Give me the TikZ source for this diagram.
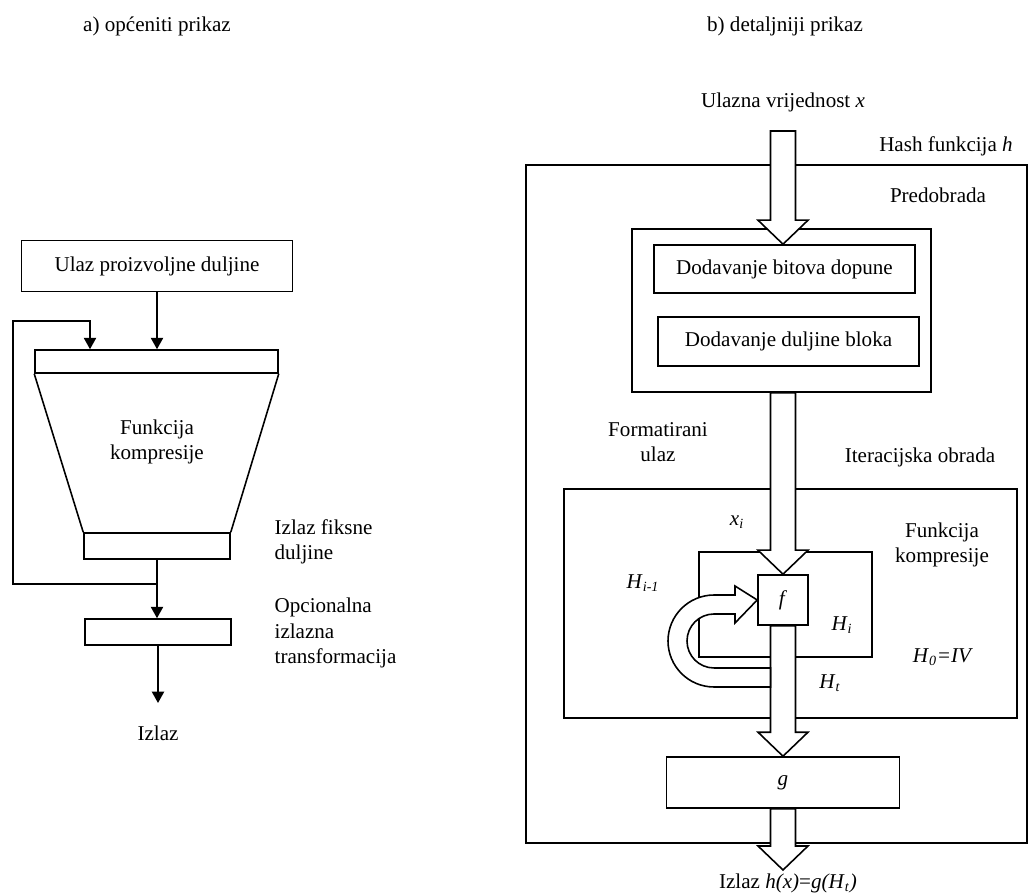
\documentclass[tikz,border=0pt]{standalone}
\usepackage{fontspec}
\setmainfont{Liberation Serif}
\usetikzlibrary{calc,arrows.meta,positioning}

\newcommand{\hsub}[2]{\textit{#1}\textsubscript{\textit{#2}}}
\newcommand{\blockarrow}[2]{%
  \draw[fill=white] let \p1=(#1), \p2=(#2) in
    (\x1-0.25cm,\y1) -- (\x1-0.25cm,\y2+0.48cm) -- (\x1-0.5cm,\y2+0.48cm)
    -- (\x1,\y2) -- (\x1+0.5cm,\y2+0.48cm) -- (\x1+0.25cm,\y2+0.48cm)
    -- (\x1+0.25cm,\y1) -- cycle;}

\begin{document}
\begin{tikzpicture}[x=0.02cm, y=0.02cm, line width=0.9pt,
  every node/.style={font=\fontsize{12}{14.5}\selectfont},
  blok/.style={draw, inner sep=0pt},
  tekst/.style={align=center},
  bok/.style={align=left, anchor=west},
  >={Triangle[length=6.5pt,width=7pt]}]
  \useasboundingbox (0,0) rectangle (1035,895);

  % a) opceniti prikaz
  \node (naslovA) at (157,869) {a) općeniti prikaz};
  \node[blok, minimum width=5.42cm, minimum height=1.02cm] (ulaz) at (157,629) {Ulaz proizvoljne duljine};
  \node[blok, minimum width=4.86cm, minimum height=0.46cm] (gornji) at (156.5,533.5) {};
  \node[blok, minimum width=2.92cm, minimum height=0.52cm] (donji) at (157,349) {};
  \draw (gornji.south west) -- (donji.north west);
  \draw (gornji.south east) -- (donji.north east);
  \node[tekst] (kompA) at (157,453) {Funkcija\\kompresije};
  \node[blok, minimum width=2.92cm, minimum height=0.52cm] (transf) at (158,263) {};
  \node (izlazA) at (158,162) {Izlaz};
  \node[bok] (fiksna) at (268,353) {Izlaz fiksne\\duljine};
  \node[bok] (opcija) at (268,262) {Opcionalna\\izlazna\\transformacija};

  \coordinate (grana) at ($(donji.south)+(0,-24)$);
  \coordinate (povrat) at (90,574);
  \coordinate (krajA) at (158,192);
  \draw[->] (ulaz.south) -- (ulaz.south |- gornji.north);
  \draw[->] (donji.south) -- (donji.south |- transf.north);
  \draw[->] (grana) -- ++(-144,0) |- (povrat) -- (povrat |- gornji.north);
  \draw[->] (transf.south) -- (krajA);

  % b) detaljniji prikaz
  \node (naslovB) at (785,869) {b) detaljniji prikaz};
  \node (ulazB) at (783,793) {Ulazna vrijednost \textit{x}};
  \node[blok, minimum width=10.02cm, minimum height=13.56cm] (hash) at (776.5,391) {};
  \node (hashL) at (946,749) {Hash funkcija \textit{h}};
  \node (predL) at (938,700) {Predobrada};
  \node[blok, minimum width=5.98cm, minimum height=3.26cm] (pre) at (781.5,584.5) {};
  \node[blok, minimum width=5.22cm, minimum height=0.96cm] (dopune) at (784.5,626) {Dodavanje bitova dopune};
  \node[blok, minimum width=5.22cm, minimum height=0.98cm] (bloka) at (788.5,553.5) {Dodavanje duljine bloka};
  \node[tekst] (formL) at (658,453) {Formatirani\\ulaz};
  \node (iterL) at (920,438) {Iteracijska obrada};
  \node[blok, minimum width=9.06cm, minimum height=4.58cm] (iter) at (790.5,291.5) {};
  \node[tekst] (kompL) at (942,350) {Funkcija\\kompresije};
  \node[blok, minimum width=3.46cm, minimum height=2.1cm] (komp) at (785.5,290.5) {};
  \node[blok, minimum width=1cm, minimum height=1cm, fill=white] (f) at (783,295) {\textit{f}};
  \node (xi) at (737,373) {\hsub{x}{i}};
  \node (hprev) at (643,312) {\hsub{H}{i-1}};
  \node (hi) at (842,270) {\hsub{H}{i}};
  \node (h0) at (943,238) {\hsub{H}{0}\textit{=IV}};
  \node (ht) at (830,212) {\hsub{H}{t}};
  \node[blok, minimum width=4.66cm, minimum height=1.02cm] (g) at (783,112.5) {\textit{g}};
  \node (izlazB) at (788,12) {Izlaz \textit{h(x)}=\textit{g(H}\textsubscript{\textit{t}}\textit{)}};
  \coordinate (ulazx) at (783,764);
  \coordinate (krajB) at (783,25);

  % siroke strelice
  \blockarrow{ulazx}{dopune.north}
  \blockarrow{f.north |- pre.south}{f.north}
  \blockarrow{f.south}{g.north}
  \blockarrow{g.south}{krajB}
  % povratna petlja H_{i-1}
  \draw[fill=white] (770.5,208) -- (714,208) arc[start angle=270, end angle=90, radius=0.92cm]
    -- (735,300) -- (735,309) -- (f.west) -- (735,272) -- (735,281) -- (714,281)
    arc[start angle=90, end angle=270, radius=0.54cm] -- (770.5,227) -- cycle;
\end{tikzpicture}
\end{document}
